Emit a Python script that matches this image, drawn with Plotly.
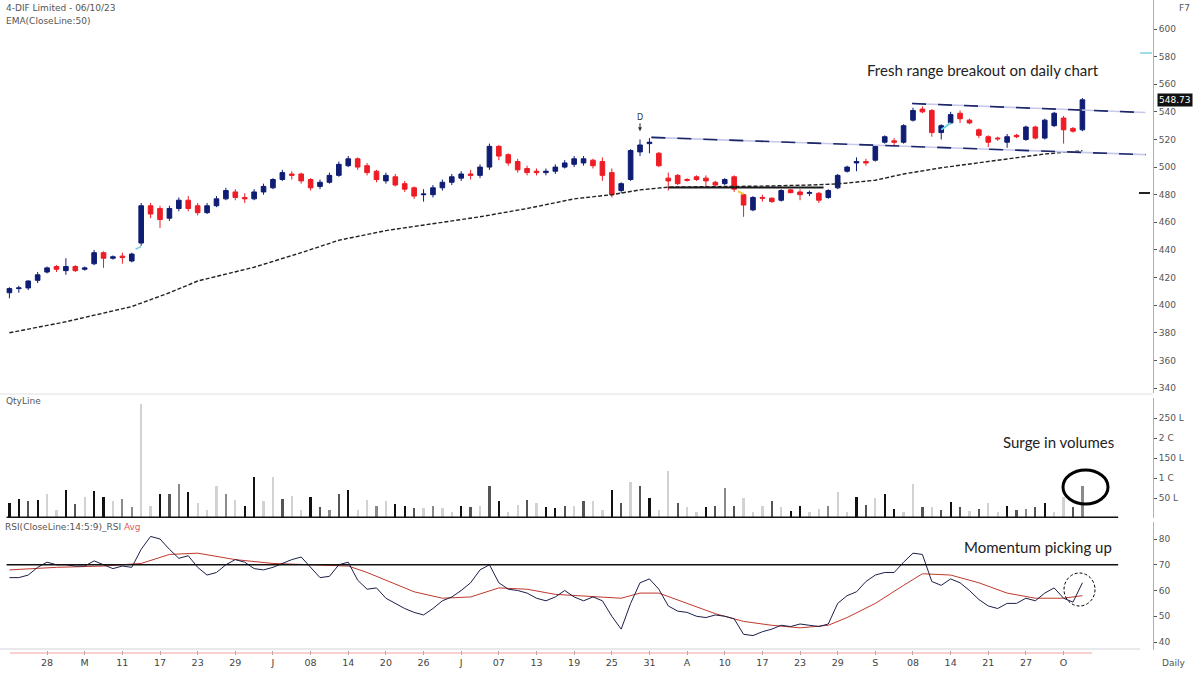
import plotly.graph_objects as go

W, H = 1198, 675

# ---------------- data ----------------
tick_idx = list(range(4, 113, 4))
tick_text = ["28", "M", "11", "17", "23", "29", "J", "08", "14", "20", "26", "J", "07", "13",
             "19", "25", "31", "A", "10", "17", "23", "29", "S", "08", "14", "21", "27", "O"]

opens = [409, 412, 412.5, 418, 424, 428, 425, 428, 426, 430, 438, 434, 435.5, 432, 445,
         472, 470, 463, 470, 476, 472, 467, 472, 477, 482, 478, 477, 482, 485, 491,
         495, 495, 491, 486, 489, 494, 501, 506, 501, 497, 490, 493, 488, 485, 480,
         480, 485, 489, 492, 495, 494, 500, 515, 509, 504, 499, 497, 496, 497, 500,
         502, 503, 505, 504, 496, 483, 491, 511, 517, 510, 492, 494, 491, 493, 492,
         489, 488, 493, 480, 469, 478, 477.5, 476, 483.5, 482, 481, 481, 478, 485, 497,
         503, 504, 505, 518, 519, 518, 534, 542, 541, 525, 532, 539, 534, 527, 522,
         521, 518, 523, 520, 529, 521, 530, 535.5, 528, 527]
highs = [413, 414, 418, 424, 428, 429, 434, 429, 428, 440, 439, 436, 438, 438, 474,
         474, 472, 472, 478, 479, 474, 474, 479, 485, 484, 481, 484, 488, 492, 498,
         497, 496, 492, 491, 496, 504, 508, 507, 503, 498, 496, 495, 490, 486, 484,
         487, 491, 495, 497, 498, 502, 517, 516, 510, 506, 501, 499, 499, 502, 505,
         508, 508, 506, 507, 499, 489, 513, 520, 521, 511, 496, 495, 492, 494, 494,
         490, 492, 494, 481, 479, 480, 478, 484, 484, 484, 483, 482, 484, 495, 501,
         507, 506, 516, 523, 521, 531, 543, 544, 542, 531, 540, 541, 535, 528, 523,
         522, 524, 524, 530, 530, 535, 540, 537, 529, 550]
lows = [405, 409, 411, 416, 423, 424, 422, 424, 425, 429, 427, 433, 430, 431, 443,
        463, 456, 461, 468, 468, 465, 466, 471, 476, 476, 474, 476, 480, 484, 490,
        491, 488, 483, 484, 488, 493, 500, 498, 494, 489, 488, 486, 482, 477, 475,
        478, 483, 487, 490, 491, 492, 498, 505, 501, 496, 494, 494, 494, 495, 499,
        500, 501, 499, 490, 478, 481, 490, 508, 510, 500, 483, 487, 489.5, 490, 486,
        486, 487, 482, 464, 468, 475, 474, 475, 481, 476, 479, 474, 477, 484, 496,
        497, 501, 504, 517, 515, 517, 533, 539, 522, 520, 531, 532, 531, 521, 514.5,
        519, 514, 521, 519, 520, 520, 529, 517, 525, 526]
closes = [412, 412.5, 417.5, 422, 427, 426, 428, 425, 427, 438, 434, 435, 434.5, 437, 472,
          466, 462, 470, 476, 470, 467, 472, 477, 483, 478, 477, 482, 486, 491, 496,
          494, 490, 485, 489, 494, 502, 506, 500, 496, 491, 494, 487, 484, 479, 480.5,
          485, 489, 493, 495, 494, 500, 515, 508, 503, 498, 496, 496, 497, 500, 503,
          506, 506, 501, 494, 480, 488, 512, 516, 518, 501, 490, 488, 490.5, 491, 490,
          487, 491, 484, 472.5, 478, 477.5, 475, 483, 481.5, 480, 481.5, 476, 483, 494, 500,
          504, 503, 515, 522, 518, 530, 541, 540, 525, 530, 538, 535, 532, 523, 518,
          520.5, 522, 522, 529, 521, 534, 539, 527, 526, 548.73]

ema_idx = [0, 6, 13, 17, 20, 26, 31, 35, 40, 45, 50, 55, 60, 64, 67, 70, 75, 80, 85, 88,
           92, 95, 99, 105, 110, 114]
ema_val = [380, 388, 399, 409, 417.5, 427.5, 438, 447, 454, 459, 464, 470, 477, 480, 483.5,
           485.5, 485.8, 486.2, 487, 487.8, 490.5, 495, 499.5, 505, 509.5, 511.8]

# trend lines (index, price)
upper_x = [95.9, 120.7]
upper_y = [546.0, 539.5]
lower_x = [68.2, 120.7]
lower_y = [521.5, 509.0]
support_x = [70, 86.5]
support_y = [485.3, 485.3]

volume = [38, 48, 42, 46, 59, 20, 71, 36, 53, 67, 53, 42, 48, 27, 285,
          30, 61, 59, 86, 66, 38, 20, 81, 61, 46, 31, 102, 42, 102, 48,
          56, 20, 52, 27, 19, 59, 71, 20, 46, 31, 42, 36, 31, 25, 25,
          31, 25, 15, 31, 28, 31, 81, 42, 15, 32, 46, 38, 27, 25, 31,
          31, 42, 42, 20, 69, 38, 91, 80, 49, 20, 118, 38, 27, 15, 27,
          31, 75, 31, 49, 15, 31, 42, 27, 18, 31, 15, 22, 31, 64, 15,
          53, 33, 49, 59, 22, 15, 84, 27, 27, 19, 40, 27, 18, 22, 38,
          15, 31, 20, 22, 27, 38, 15, 53, 27, 80]
vol_tick_vals = [50, 100, 150, 200, 250]
vol_tick_text = ["50 L", "1 C", "150 L", "2 C", "250 L"]

rsi = [65, 65, 66, 69, 71, 70, 70, 69.5, 69.5, 71.5,
       70, 68.5, 69.5, 69, 76, 81, 80, 76, 72.5, 73.5,
       69, 66, 67, 70, 72, 71, 68.5, 68, 69, 70.5,
       72, 73, 69, 65, 65.5, 70, 71, 64, 60.5, 61,
       57, 55, 53, 51.5, 50.5, 53, 56, 57.5, 60, 63,
       68, 70, 63, 60.5, 60, 59, 57, 56, 57.5, 60,
       57.5, 56, 57.5, 56, 50, 45, 55, 63, 64.5, 60.5,
       54, 52, 51.5, 50, 49.5, 50.5, 50, 49, 43, 42.5,
       44, 45, 46.5, 46, 47, 46.5, 46, 47, 55, 58,
       59.5, 63.5, 66, 67, 67, 71, 74.5, 74, 63.5, 62,
       64.5, 63, 60, 56.5, 54, 53, 55, 55, 57, 56,
       59, 61, 57, 55.5, 63]
avg_idx = [0, 5, 10, 14, 17, 20, 24, 28, 32, 36, 38, 40, 43, 46, 49, 52, 55, 58, 62, 65,
           67, 69, 72, 75, 78, 81, 84, 87, 89, 92, 95, 97, 100, 103, 106, 109, 112, 114]
avg_val = [68, 69, 69.5, 70.5, 74, 74.5, 72, 70.5, 70, 69.5, 67, 64, 59.5, 57, 57.5, 61,
           60.5, 58.5, 57.5, 57, 59, 59, 55, 51, 48, 46.5, 45.5, 46.5, 49.5, 55, 62, 66.5,
           66, 63, 59, 57, 57, 58]
rsi_level = 70
last_price = 548.73

# ---------------- styling ----------------
NAVY = "#0f1d73"
RED = "#ee1c25"
shade_map = {"k": "#111111", "d": "#555555", "g": "#8a8a8a", "l": "#d2d2d2"}
vol_shade = ("kkdkllkdlkklggl" "lkdgklllglkklld" "llkdgdkllglkkdl" "gllkdldklldlkkd"
             "ldllkdldklldllk" "dgdllldlkkllgll" "kdlkklldldkdldl" "lkdgdklldg")
idx = list(range(len(closes)))
vol_colors = [shade_map[vol_shade[i]] if i < len(vol_shade) else "#8a8a8a" for i in idx]


def py(p):
    return 1 - p / H


def px(p):
    return p / W


fig = go.Figure()

fig.add_trace(go.Candlestick(
    x=idx, open=opens, high=highs, low=lows, close=closes,
    increasing=dict(line=dict(color=NAVY, width=1), fillcolor=NAVY),
    decreasing=dict(line=dict(color=RED, width=1), fillcolor=RED),
    whiskerwidth=0, xaxis="x", yaxis="y", showlegend=False))

fig.add_trace(go.Scatter(x=ema_idx, y=ema_val, mode="lines", xaxis="x", yaxis="y",
                         line=dict(color="#222222", width=1.4, dash="4px,2px"), showlegend=False))

for lx, ly in ((upper_x, upper_y), (lower_x, lower_y)):
    fig.add_trace(go.Scatter(x=lx, y=ly, mode="lines", xaxis="x", yaxis="y",
                             line=dict(color="#c6c9ea", width=1.6), showlegend=False))
    fig.add_trace(go.Scatter(x=lx, y=ly, mode="lines", xaxis="x", yaxis="y",
                             line=dict(color="#1c2566", width=1.6, dash="14px,12px"), showlegend=False))
fig.add_trace(go.Scatter(x=support_x, y=support_y, mode="lines", xaxis="x", yaxis="y",
                         line=dict(color="#1a1a1a", width=2), showlegend=False))

fig.add_trace(go.Bar(x=idx, y=volume, marker=dict(color=vol_colors, line=dict(width=0)),
                     width=0.24, xaxis="x", yaxis="y2", showlegend=False))

fig.add_trace(go.Scatter(x=avg_idx, y=avg_val, mode="lines", xaxis="x", yaxis="y3",
                         line=dict(color="#c0392b", width=1), showlegend=False))
fig.add_trace(go.Scatter(x=idx, y=rsi, mode="lines", xaxis="x", yaxis="y3",
                         line=dict(color="#1b1f4a", width=1), showlegend=False))

tickfont = dict(family="DejaVu Sans", size=9, color="#555555")
axis_common = dict(side="right", anchor="x", showgrid=False, zeroline=False, showline=True,
                   linecolor="#b0b0b0", linewidth=1, ticks="outside", ticklen=3,
                   tickcolor="#555555", tickfont=tickfont, fixedrange=True)

fig.update_layout(
    width=W, height=H, margin=dict(l=0, r=0, t=0, b=0),
    paper_bgcolor="white", plot_bgcolor="white", showlegend=False,
    xaxis=dict(domain=[0, 1153 / W], range=[-1, 121.5], anchor="y3",
               tickmode="array", tickvals=tick_idx, ticktext=tick_text,
               ticks="outside", ticklen=4, tickcolor="#aaaaaa",
               tickfont=dict(family="DejaVu Sans", size=9.5, color="#444444"),
               showgrid=False, zeroline=False, showline=False,
               rangeslider=dict(visible=False), fixedrange=True),
    yaxis=dict(domain=[py(393), 1], range=[336.4, 621],
               tickvals=list(range(340, 601, 20)), **axis_common),
    yaxis2=dict(domain=[py(518), py(398)], range=[0, 300],
                tickvals=vol_tick_vals, ticktext=vol_tick_text, **axis_common),
    yaxis3=dict(domain=[py(650), py(522)], range=[36.9, 86.6],
                tickvals=[40, 50, 60, 70, 80], **axis_common),
    bargap=0,
)

shapes = [
    dict(type="line", xref="x", yref="y3", x0=-0.3, x1=117.8, y0=rsi_level, y1=rsi_level,
         line=dict(color="#111111", width=1.5)),
    dict(type="line", xref="x", yref="y2", x0=-0.3, x1=117.8, y0=0, y1=0,
         line=dict(color="#111111", width=3)),
    dict(type="line", xref="paper", yref="paper", x0=0, x1=px(1153), y0=py(394), y1=py(394),
         line=dict(color="#e0e0e0", width=1)),
    dict(type="line", xref="paper", yref="paper", x0=0, x1=px(1140), y0=py(649), y1=py(649),
         line=dict(color="#cfd3d8", width=1)),
    dict(type="line", xref="paper", yref="paper", x0=px(10), x1=px(1092), y0=py(653), y1=py(653),
         line=dict(color="#f0a0a0", width=1)),
    # circles
    dict(type="circle", xref="paper", yref="paper", x0=px(1063), x1=px(1108),
         y0=py(504), y1=py(470), line=dict(color="#000000", width=3)),
    dict(type="circle", xref="paper", yref="paper", x0=px(1064), x1=px(1095),
         y0=py(606), y1=py(573), line=dict(color="#000000", width=1, dash="3px,2px")),
    # level dashes near axis
    dict(type="line", xref="paper", yref="paper", x0=px(1140), x1=px(1152), y0=py(53), y1=py(53),
         line=dict(color="#7fd0dc", width=1.5)),
    dict(type="line", xref="paper", yref="paper", x0=px(1139), x1=px(1150), y0=py(193), y1=py(193),
         line=dict(color="#222222", width=2)),
    # small cyan / yellow markers
    dict(type="line", xref="x", yref="y", x0=13.4, x1=14.0, y0=440.5, y1=442.5,
         line=dict(color="#7fd0dc", width=1.5)),
    dict(type="line", xref="x", yref="y", x0=99.0, x1=100.0, y0=527, y1=532,
         line=dict(color="#6fd3e6", width=2)),
    dict(type="line", xref="x", yref="y", x0=77.4, x1=78.0, y0=482.5, y1=480.5,
         line=dict(color="#f5d142", width=2)),
]
fig.update_layout(shapes=shapes)

ann_font = dict(family="Lato", size=15, color="#222222")
small = dict(family="DejaVu Sans", size=9, color="#555555")
anns = [
    dict(text="4-DIF Limited - 06/10/23", x=px(4), y=py(8), font=small),
    dict(text="EMA(CloseLine:50)", x=px(4), y=py(21), font=small),
    dict(text="F7", x=px(1177), y=py(8), font=small),
    dict(text="QtyLine", x=px(4), y=py(401), font=small),
    dict(text="RSI(CloseLine:14:5:9)_RSI <span style='color:#e06060'>Avg</span>",
         x=px(3), y=py(527), font=small),
    dict(text="Daily", x=px(1160), y=py(663), font=small),
    dict(text="Fresh range breakout on daily chart", x=px(983), y=py(70), font=ann_font,
         xanchor="center"),
    dict(text="Surge in volumes", x=px(1058), y=py(442), font=ann_font, xanchor="center"),
    dict(text="Momentum picking up", x=px(1038), y=py(547), font=ann_font, xanchor="center"),
]
ann_list = []
for a in anns:
    d = dict(xref="paper", yref="paper", showarrow=False, xanchor="left", yanchor="middle")
    d.update(a)
    ann_list.append(d)
ann_list.append(dict(xref="paper", yref="y", x=px(1175), y=last_price, text="548.73",
                     showarrow=False, xanchor="center", yanchor="middle",
                     font=dict(family="DejaVu Sans", size=9, color="white"),
                     bgcolor="#111111", borderpad=1))
ann_list.append(dict(xref="x", yref="y", x=67, y=526, text="D", showarrow=True,
                     arrowhead=2, arrowsize=0.8, arrowwidth=1, arrowcolor="#333333",
                     ax=0, ay=-14, font=dict(family="DejaVu Sans", size=8, color="#333333")))
fig.update_layout(annotations=ann_list)

fig.write_html("out.html")
